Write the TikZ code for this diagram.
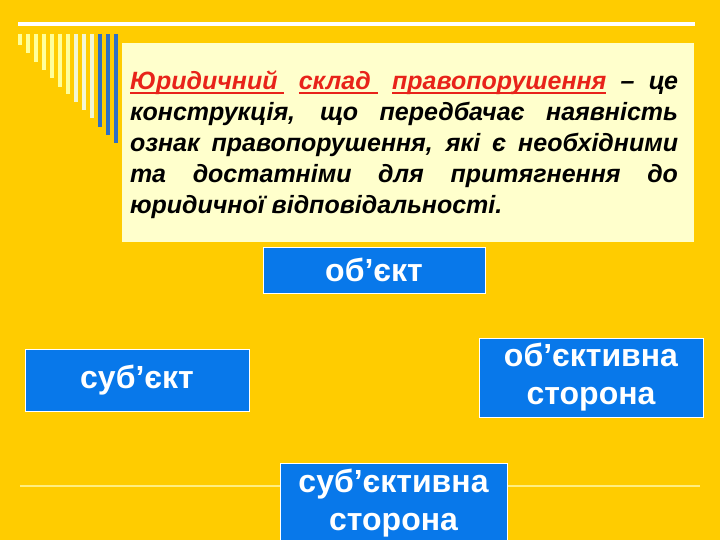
\documentclass[tikz,border=0pt]{standalone}
\usepackage{fontspec}
\setmainfont{Liberation Sans}
\usepackage{xcolor}
\usepackage{tikz}

\newcommand\redline[1]{\setbox0\hbox{#1}\rlap{\rule[-5pt]{\wd0}{1.8pt}}\box0}
\definecolor{slidebg}{HTML}{FFCC00}
\definecolor{cream}{HTML}{FFFFCC}
\definecolor{boxblue}{HTML}{0878EA}
\definecolor{barpale}{HTML}{FFFF99}
\definecolor{barlight}{HTML}{F2F6D2}
\definecolor{barblue}{HTML}{2E6FC4}
\definecolor{defred}{HTML}{E8231A}
\definecolor{rulepale}{HTML}{FFEE80}

\begin{document}
\begin{tikzpicture}[x=1pt,y=-1pt,
  blockbox/.style={fill=boxblue, draw=white, line width=1pt, text=white,
    align=center, inner sep=0pt, font=\fontsize{32}{38}\selectfont\bfseries}]
\useasboundingbox (0,0) rectangle (720,540);
\fill[slidebg] (0,0) rectangle (720,540);
\clip (0,0) rectangle (720,540);

% top rule and stripes
\draw[white, line width=4pt] (18,24.5) -- (695,24.5);
\foreach \i/\len/\col in {0/45/barpale, 1/53/barpale, 2/62/barpale, 3/70/barpale,
  4/78/barpale, 5/87/barpale, 6/94/barpale, 7/102/barlight, 8/110/barlight,
  9/118/barlight, 10/127/barblue, 11/135/barblue, 12/143/barblue}
  \draw[\col, line width=4pt] (20+8*\i,34) -- (20+8*\i,\len);

% definition
\node (defbox) [fill=cream, inner sep=0pt, minimum width=572pt, minimum height=199pt] at (407.5,142.5) {};
\node (definition) [text width=548pt, inner sep=0pt, align=justify,
  font=\fontsize{25}{31}\selectfont\bfseries\itshape] at (404,144.5)
  {\textcolor{defred}{\redline{Юридичний\ }\ \redline{склад\ }\ \redline{правопорушення}} – це\linebreak
   конструкція, що передбачає наявність\linebreak
   ознак правопорушення, які є необхідними\linebreak
   та достатніми для притягнення до\linebreak
   юридичної відповідальності.};

% thin rule behind the lower box
\draw[rulepale, line width=1.2pt] (20,486) -- (700,486);

% elements
\node (objekt) [blockbox, minimum width=222pt, minimum height=46pt] at (374,270) {об’єкт};
\node (subjekt) [blockbox, minimum width=224pt, minimum height=62pt] at (137,380) {суб’єкт};
\node (objside) [blockbox, minimum width=224pt, minimum height=79pt] at (591,377.5) {об’єктивна\\сторона};
\node (subjside) [blockbox, minimum width=227pt, minimum height=80pt] at (393.5,503) {суб’єктивна\\сторона};
\end{tikzpicture}
\end{document}
